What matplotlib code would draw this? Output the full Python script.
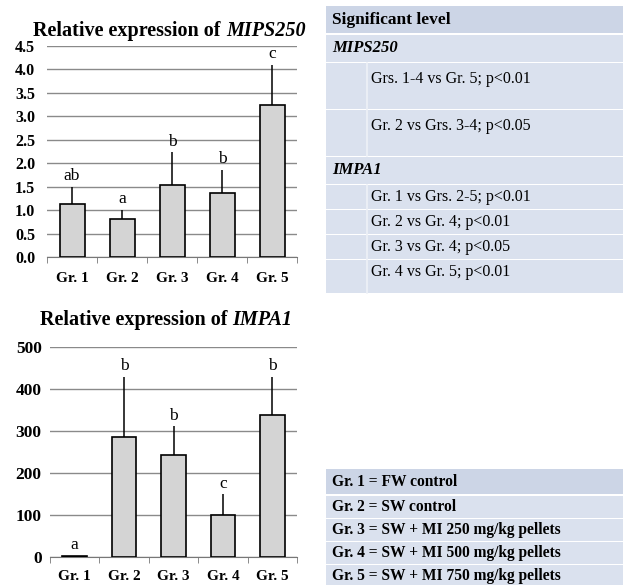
import matplotlib
matplotlib.use("Agg")
import matplotlib.pyplot as plt
from matplotlib.offsetbox import TextArea, HPacker, AnchoredOffsetbox
from matplotlib.patches import Rectangle

plt.rcParams['font.family'] = ['Liberation Serif', 'DejaVu Serif']

# data
groups = ["Gr. 1", "Gr. 2", "Gr. 3", "Gr. 4", "Gr. 5"]
mips_mean = [1.12, 0.80, 1.54, 1.37, 3.25]
mips_err = [0.38, 0.20, 0.69, 0.48, 0.85]
mips_letters = ["ab", "a", "b", "b", "c"]
impa_mean = [3, 285, 242, 101, 337]
impa_err = [0, 144, 69, 48, 92]
impa_letters = ["a", "b", "b", "c", "b"]

sig_rows = [
    ("Significant level", "header"),
    ("MIPS250", "gene"),
    ("Grs. 1-4 vs Gr. 5; p<0.01", "tall"),
    ("Gr. 2 vs Grs. 3-4; p<0.05", "tall"),
    ("IMPA1", "gene"),
    ("Gr. 1 vs Grs. 2-5; p<0.01", "row"),
    ("Gr. 2 vs Gr. 4; p<0.01", "row"),
    ("Gr. 3 vs Gr. 4; p<0.05", "row"),
    ("Gr. 4 vs Gr. 5; p<0.01", "row"),
]
legend_rows = [
    "Gr. 1 = FW control",
    "Gr. 2 = SW control",
    "Gr. 3 = SW + MI 250 mg/kg pellets",
    "Gr. 4 = SW + MI 500 mg/kg pellets",
    "Gr. 5 = SW + MI 750 mg/kg pellets",
]

W, H = 627, 585
fig = plt.figure(figsize=(W / 100, H / 100), dpi=100)


def px_axes(x0, y0, x1, y1):
    # pixel box (top-left origin) -> figure fraction
    return [x0 / W, 1 - y1 / H, (x1 - x0) / W, (y1 - y0) / H]


def bar_panel(rect, means, errs, letters, ylim, yticks, fmt, gene,
              title_xy, ytick_size, ypad, xpad):
    ax = fig.add_axes(rect)
    x = list(range(len(groups)))
    ax.bar(x, means, width=0.5, color="#d4d4d4", edgecolor="black",
           linewidth=1.2, zorder=3)
    ax.errorbar(x, means, yerr=[[0] * len(errs), errs], fmt="none",
                ecolor="black", elinewidth=1.1, capsize=0, zorder=4)
    for xi, m, e, lab in zip(x, means, errs, letters):
        ax.annotate(lab, (xi, m + e), xytext=(0, 2), textcoords="offset points",
                    ha="center", va="bottom", fontsize=12.5)
    ax.set_xlim(-0.5, len(groups) - 0.5)
    ax.set_ylim(*ylim)
    ax.set_yticks(yticks)
    ax.set_yticklabels([fmt.format(v) for v in yticks], fontsize=ytick_size,
                       fontweight="bold")
    ax.set_xticks(x)
    ax.set_xticklabels(groups, fontsize=11, fontweight="bold")
    ax.set_xticks([i - 0.5 for i in range(len(groups) + 1)], minor=True)
    ax.tick_params(axis="x", which="major", length=0, pad=xpad)
    ax.tick_params(axis="x", which="minor", length=4, color="#777777")
    ax.tick_params(axis="y", length=0, pad=ypad)
    ax.grid(axis="y", color="#8a8a8a", linewidth=1.0, zorder=0)
    for s in ["left", "right", "top"]:
        ax.spines[s].set_visible(False)
    ax.spines["bottom"].set_color("#777777")
    ax.set_axisbelow(True)

    # title with the gene name in bold italic
    t1 = TextArea("Relative expression of ",
                  textprops=dict(fontsize=14.5, fontweight="bold"))
    t2 = TextArea(gene, textprops=dict(fontsize=14.5, fontweight="bold",
                                        fontstyle="italic"))
    box = HPacker(children=[t1, t2], pad=0, sep=0, align="baseline")
    anchored = AnchoredOffsetbox(loc="center", child=box, frameon=False,
                                 bbox_to_anchor=title_xy,
                                 bbox_transform=ax.transAxes, borderpad=0)
    ax.add_artist(anchored)
    return ax


bar_panel(px_axes(47, 46, 297, 257), mips_mean, mips_err, mips_letters,
          (0, 4.5), [0, 0.5, 1, 1.5, 2, 2.5, 3, 3.5, 4, 4.5], "{:.1f}",
          "MIPS250", (0.49, 1.07), 11.5, 8.5, 11)
bar_panel(px_axes(50, 347, 297, 557), impa_mean, impa_err, impa_letters,
          (0, 500), [0, 100, 200, 300, 400, 500], "{:d}",
          "IMPA1", (0.47, 1.13), 12.5, 6, 9.5)

# tables drawn on an overlay in pixel coordinates
ov = fig.add_axes([0, 0, 1, 1], zorder=-1)
ov.set_xlim(0, W)
ov.set_ylim(H, 0)
ov.axis("off")

dark = "#ccd5e6"
light = "#dae1ee"
tab_x0, tab_x1 = 326, 623
indent_x = 367

# significance table
heights = {"header": 27, "gene": 27, "tall": 46, "row": 24}
y = 6
for text, kind in sig_rows:
    h = heights[kind]
    if kind == "row" and text.startswith("Gr. 4"):
        h = 33
    color = dark if kind == "header" else light
    ov.add_patch(Rectangle((tab_x0, y), tab_x1 - tab_x0, h, facecolor=color,
                           edgecolor="none"))
    if kind in ("tall", "row"):
        ov.plot([indent_x, indent_x], [y, y + h], color="#eef1f7", lw=1.2)
        ty = y + (16 if kind == "tall" else h / 2 - (4 if h > 28 else 0))
        ov.text(indent_x + 4, ty, text, fontsize=11.5, va="center", ha="left")
    elif kind == "header":
        ov.text(tab_x0 + 6, y + h / 2, text, fontsize=12.5, fontweight="bold",
                va="center", ha="left")
    else:
        ov.text(tab_x0 + 6, y + h / 2, text, fontsize=12, fontweight="bold",
                fontstyle="italic", va="center", ha="left")
    y += h + (2 if kind == "header" else 1)

# group legend table
y = 469
for i, text in enumerate(legend_rows):
    h = 25 if i == 0 else 22
    ov.add_patch(Rectangle((tab_x0, y), tab_x1 - tab_x0, h,
                           facecolor=dark if i == 0 else light,
                           edgecolor="none"))
    ov.text(tab_x0 + 6, y + h / 2, text, fontsize=11.2, fontweight="bold",
            va="center", ha="left")
    y += h + (2 if i == 0 else 1)

fig.savefig("out.png", dpi=100)
